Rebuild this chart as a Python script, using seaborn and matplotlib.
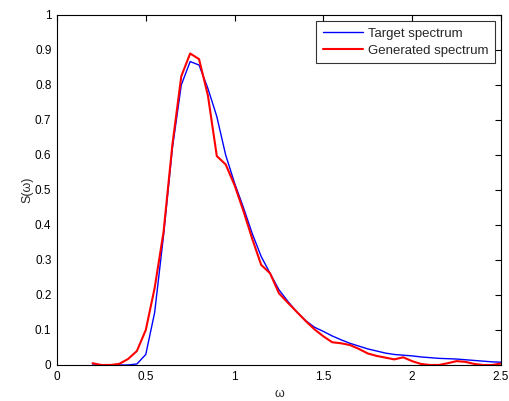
import numpy as np
import pandas as pd
import matplotlib
matplotlib.use("Agg")
import matplotlib.pyplot as plt
import seaborn as sns
from matplotlib.lines import Line2D

omega = [0.20, 0.25, 0.30, 0.35, 0.40, 0.45, 0.50, 0.55, 0.60, 0.65, 0.70, 0.75,
         0.80, 0.85, 0.90, 0.95, 1.00, 1.05, 1.10, 1.15, 1.20, 1.25, 1.30, 1.35,
         1.40, 1.45, 1.50, 1.55, 1.60, 1.65, 1.70, 1.75, 1.80, 1.85, 1.90, 1.95,
         2.00, 2.05, 2.10, 2.15, 2.20, 2.25, 2.30, 2.35, 2.40, 2.45, 2.50]

target = [0.0, 0.0, 0.0, 0.0, 0.0, 0.003, 0.03, 0.15, 0.37, 0.62, 0.80, 0.867,
          0.857, 0.79, 0.71, 0.60, 0.52, 0.45, 0.375, 0.31, 0.262, 0.215, 0.182, 0.152,
          0.127, 0.108, 0.096, 0.083, 0.072, 0.062, 0.054, 0.046, 0.040, 0.034, 0.030, 0.028,
          0.026, 0.023, 0.021, 0.019, 0.018, 0.017, 0.015, 0.013, 0.011, 0.009, 0.008]

generated = [0.005, 0.0, 0.0, 0.003, 0.017, 0.04, 0.10, 0.22, 0.38, 0.63, 0.825, 0.89,
             0.874, 0.77, 0.597, 0.573, 0.514, 0.44, 0.36, 0.286, 0.262, 0.205, 0.178, 0.152,
             0.126, 0.102, 0.082, 0.065, 0.062, 0.057, 0.046, 0.033, 0.026, 0.021, 0.016, 0.022,
             0.011, 0.003, 0.0, 0.0, 0.005, 0.011, 0.009, 0.003, 0.0, 0.0, 0.004]

series_names = ["Target spectrum", "Generated spectrum"]
xticks = [0, 0.5, 1, 1.5, 2, 2.5]
xticklabels = ["0", "0.5", "1", "1.5", "2", "2.5"]
yticks = [0, 0.1, 0.2, 0.3, 0.4, 0.5, 0.6, 0.7, 0.8, 0.9, 1.0]
yticklabels = ["0", "0.1", "0.2", "0.3", "0.4", "0.5", "0.6", "0.7", "0.8", "0.9", "1"]

df = pd.DataFrame({
    "omega": omega * 2,
    "S": target + generated,
    "series": [series_names[0]] * len(omega) + [series_names[1]] * len(omega),
})

sns.set_style("white")
plt.rcParams["font.family"] = ["Liberation Sans", "DejaVu Sans"]

fig = plt.figure(figsize=(5.09, 4.01), dpi=100)
ax = fig.add_axes([0.112, 0.0898, 0.872, 0.8728])

sns.lineplot(data=df, x="omega", y="S", hue="series",
             palette={series_names[0]: "#0000ff", series_names[1]: "#ff0000"},
             size="series", sizes={series_names[0]: 1.0, series_names[1]: 1.5},
             ax=ax, legend=False)

ax.set_xlim(0, 2.5)
ax.set_ylim(0, 1)
ax.set_xticks(xticks)
ax.set_xticklabels(xticklabels)
ax.set_yticks(yticks)
ax.set_yticklabels(yticklabels)
ax.tick_params(direction="in", length=4, width=0.8, top=True, right=True,
               labelsize=8.5, colors="black", pad=4)
for sp in ax.spines.values():
    sp.set_visible(True)
    sp.set_color("black")
    sp.set_linewidth(0.8)
ax.set_xlabel("ω", fontsize=9, labelpad=4)
ax.set_ylabel("S(ω)", fontsize=9, labelpad=1)

handles = [Line2D([], [], color="#0000ff", lw=1.0),
           Line2D([], [], color="#ff0000", lw=1.5)]
leg = ax.legend(handles, series_names, loc="upper right", fontsize=9.5,
                frameon=True, fancybox=False, edgecolor="black",
                borderaxespad=0.45, handlelength=3.0, handletextpad=0.4,
                borderpad=0.5, labelspacing=0.36)
leg.get_frame().set_linewidth(0.8)

fig.savefig("out.png", dpi=100)
